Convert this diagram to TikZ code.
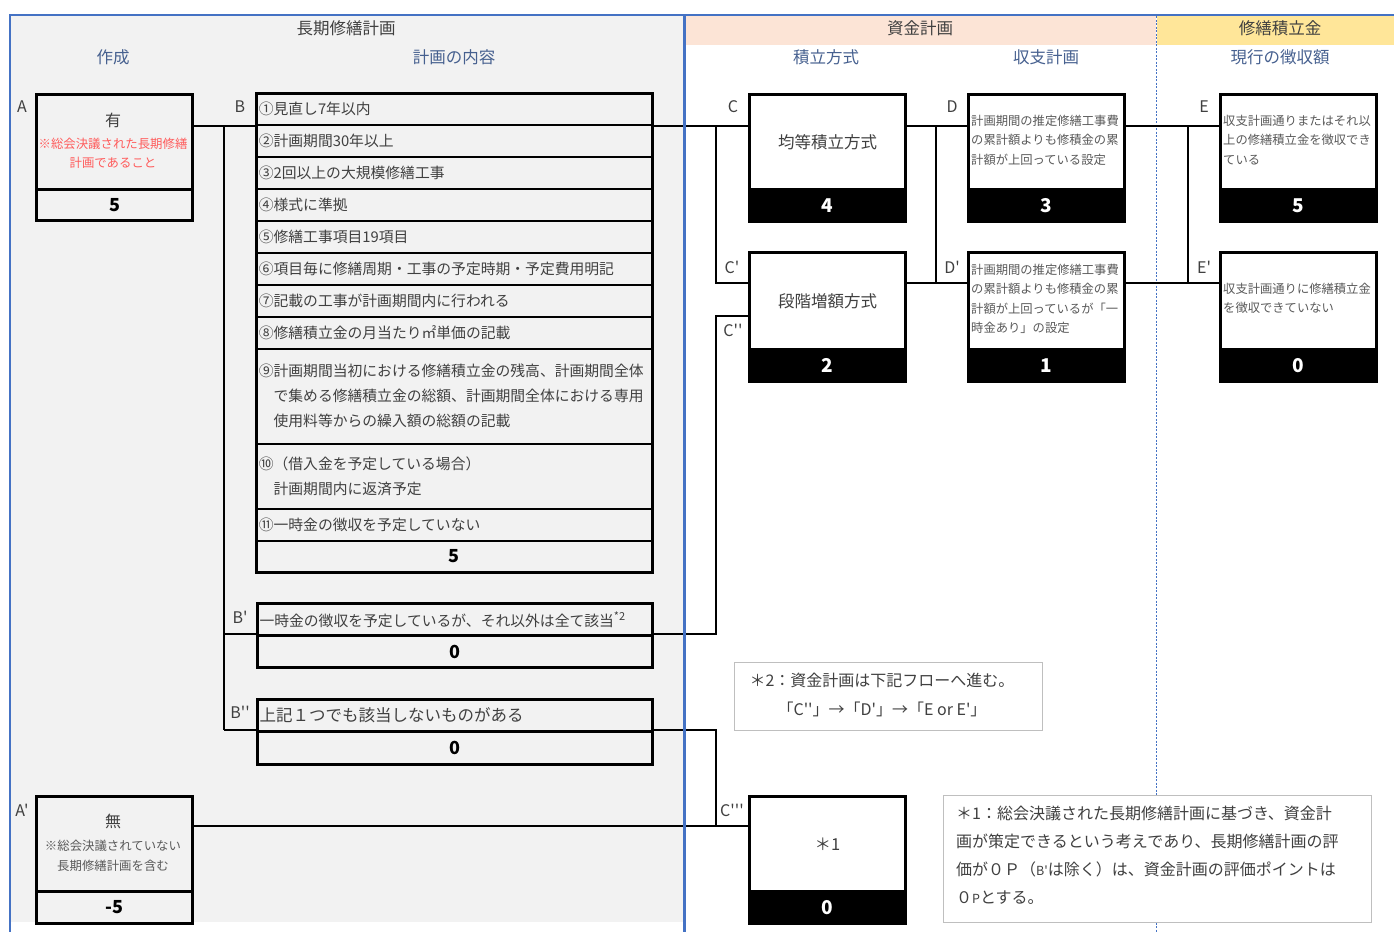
\documentclass[tikz,border=0pt]{standalone}
\usepackage{fontspec}
\setmainfont{Noto Sans CJK JP}[Ligatures=TeXOff]
\usetikzlibrary{calc}
\definecolor{panelgray}{HTML}{F2F2F2}
\definecolor{borderblue}{HTML}{4472C4}
\definecolor{hdrpink}{HTML}{FCE4D6}
\definecolor{hdryellow}{HTML}{FFE699}
\definecolor{subblue}{HTML}{46608F}
\definecolor{txtdark}{HTML}{404040}
\definecolor{txtgray}{HTML}{595959}
\definecolor{redtxt}{HTML}{FF5B5B}
\definecolor{notegray}{HTML}{BFBFBF}
\tikzset{
  hdr/.style={font=\fontsize{16.5}{20}\selectfont, text=txtdark, inner sep=0pt},
  subhdr/.style={font=\fontsize{16.5}{20}\selectfont, text=subblue, inner sep=0pt},
  lbl/.style={font=\fontsize{16}{20}\selectfont, text=txtdark, inner sep=0pt},
  graybox/.style={draw, line width=3pt, anchor=north west, minimum width=156pt, inner sep=0pt},
  whitebox/.style={draw, line width=3pt, fill=white, anchor=north west, minimum width=156pt, inner sep=0pt, font=\fontsize{16.5}{20}\selectfont, text=txtdark},
  blackband/.style={draw, line width=3pt, fill=black, text=white, anchor=north west, minimum width=156pt, minimum height=32pt, inner sep=0pt, font=\fontsize{19}{20}\selectfont\bfseries},
  scorefont/.style={font=\fontsize{18}{20}\selectfont\bfseries, text=black},
  row/.style={draw, line width=1.6pt, anchor=north west, minimum width=395pt, text width=391pt, inner xsep=2pt, inner ysep=0pt, align=left, font=\fontsize{14.8}{25}\selectfont, text=txtdark},
  conn/.style={line width=2pt, black},
  note/.style={draw=notegray, line width=1pt, fill=white, anchor=north west},
  small/.style={font=\fontsize{12.3}{19.5}\selectfont, text=txtgray, align=left, inner sep=0pt, anchor=west},
}
\begin{document}
\begin{tikzpicture}[x=1pt,y=-1pt]
\useasboundingbox (0,0) rectangle (1394,932);
% backgrounds
\fill[panelgray] (10,15) rectangle (684,922);
\fill[hdrpink] (686,16) rectangle (1156,45);
\fill[hdryellow] (1157,16) rectangle (1394,45);
\draw[borderblue, line width=0.9pt, dash pattern=on 2pt off 1.5pt] (1156.5,16) -- (1156.5,932);

% headers
\node[hdr] (h1) at (346,28) {長期修繕計画};
\node[hdr] (h2) at (920,28) {資金計画};
\node[hdr] (h3) at (1280,28) {修繕積立金};
\node[subhdr] (s1) at (113,57) {作成};
\node[subhdr] (s2) at (454,57) {計画の内容};
\node[subhdr] (s3) at (826,57) {積立方式};
\node[subhdr] (s4) at (1046,57) {収支計画};
\node[subhdr] (s5) at (1280,57) {現行の徴収額};

% A box
\node[graybox, minimum height=95pt] (Atop) at (35,93) {};
\node[graybox, minimum height=31pt, scorefont] (Ascore) at (35,188) {5};
\node[font=\fontsize{16}{20}\selectfont, text=txtdark, inner sep=0pt] (Ahas) at (113,120) {有};
\node[font=\fontsize{12.4}{19}\selectfont, text=redtxt, align=center, inner sep=0pt] (Anote) at (113,153.5) {※総会決議された長期修繕\\計画であること};

% A' box
\node[graybox, minimum height=95pt] (Aptop) at (35,795) {};
\node[graybox, minimum height=32pt, scorefont] (Apscore) at (35,890) {-5};
\node[font=\fontsize{16}{20}\selectfont, text=txtdark, inner sep=0pt] (Apnone) at (113,821) {無};
\node[font=\fontsize{12.4}{20}\selectfont, text=txtgray, align=center, inner sep=0pt] (Apnote) at (113,856) {※総会決議されていない\\長期修繕計画を含む};

% B list
\node[row, minimum height=31pt] (B1) at (256,93) {①見直し7年以内};
\node[row, minimum height=32pt] (B2) at (256,124) {②計画期間30年以上};
\node[row, minimum height=32pt] (B3) at (256,156) {③2回以上の大規模修繕工事};
\node[row, minimum height=32pt] (B4) at (256,188) {④様式に準拠};
\node[row, minimum height=32pt] (B5) at (256,220) {⑤修繕工事項目19項目};
\node[row, minimum height=32pt] (B6) at (256,252) {⑥項目毎に修繕周期・工事の予定時期・予定費用明記};
\node[row, minimum height=32pt] (B7) at (256,284) {⑦記載の工事が計画期間内に行われる};
\node[row, minimum height=32pt] (B8) at (256,316) {⑧修繕積立金の月当たり㎡単価の記載};
\node[row, minimum height=95pt] (B9) at (256,348) {⑨計画期間当初における修繕積立金の残高、計画期間全体\\\hspace*{1em}で集める修繕積立金の総額、計画期間全体における専用\\\hspace*{1em}使用料等からの繰入額の総額の記載};
\node[row, minimum height=65pt] (B10) at (256,443) {⑩（借入金を予定している場合）\\\hspace*{1em}計画期間内に返済予定};
\node[row, minimum height=32pt] (B11) at (256,508) {⑪一時金の徴収を予定していない};
\node[row, minimum height=31pt, align=center, scorefont] (Bs) at (256,540) {5};
\draw[line width=3pt] (B1.north west) rectangle (Bs.south east);

% B' and B''
\node[row, line width=3pt, minimum height=32pt] (Bp) at (256,602) {一時金の徴収を予定しているが、それ以外は全て該当\raisebox{6pt}{\fontsize{11}{11}\selectfont *2}};
\node[row, line width=3pt, minimum height=32pt, align=center, scorefont] (Bps) at (256,634) {0};
\node[row, line width=3pt, minimum height=32pt, font=\fontsize{16.5}{20}\selectfont] (Bpp) at (256,698) {上記１つでも該当しないものがある};
\node[row, line width=3pt, minimum height=33pt, align=center, scorefont] (Bpps) at (256,730) {0};

% C column
\node[whitebox, minimum height=95pt] (Ctop) at (748,93) {均等積立方式};
\node[blackband] (Cscore) at (748,188) {4};
\node[whitebox, minimum height=97pt] (Cptop) at (748,251) {段階増額方式};
\node[blackband] (Cpscore) at (748,348) {2};
\node[whitebox, minimum height=95pt] (Cppptop) at (748,795) {＊1};
\node[blackband] (Cpppscore) at (748,890) {0};

% D column
\node[whitebox, minimum height=95pt] (Dtop) at (967,93) {};
\node[blackband] (Dscore) at (967,188) {3};
\node[small] (Dtxt) at (971,140) {計画期間の推定修繕工事費\\の累計額よりも修積金の累\\計額が上回っている設定};
\node[whitebox, minimum height=97pt] (Dptop) at (967,251) {};
\node[blackband] (Dpscore) at (967,348) {1};
\node[small] (Dptxt) at (971,299) {計画期間の推定修繕工事費\\の累計額よりも修積金の累\\計額が上回っているが「一\\時金あり」の設定};

% E column
\node[whitebox, minimum height=95pt] (Etop) at (1219,93) {};
\node[blackband] (Escore) at (1219,188) {5};
\node[small] (Etxt) at (1223,140) {収支計画通りまたはそれ以\\上の修繕積立金を徴収でき\\ている};
\node[whitebox, minimum height=97pt] (Eptop) at (1219,251) {};
\node[blackband] (Epscore) at (1219,348) {0};
\node[small] (Eptxt) at (1223,298.5) {収支計画通りに修繕積立金\\を徴収できていない};

% letter labels
\node[lbl] (lA) at (22,107) {A};
\node[lbl] (lAp) at (22,810) {A'};
\node[lbl] (lB) at (240,107) {B};
\node[lbl] (lBp) at (240,617) {B'};
\node[lbl] (lBpp) at (240,712) {B''};
\node[lbl] (lC) at (733,107) {C};
\node[lbl] (lCp) at (732,267) {C'};
\node[lbl] (lCpp) at (733,330) {C''};
\node[lbl] (lCppp) at (732,810) {C'''};
\node[lbl] (lD) at (952,107) {D};
\node[lbl] (lDp) at (952,267) {D'};
\node[lbl] (lE) at (1204,107) {E};
\node[lbl] (lEp) at (1204,267) {E'};

% junction coordinates
\coordinate (jB) at (224,0);
\coordinate (jC) at (716,283);
\coordinate (jCpp) at (716,316);
\coordinate (jD) at (936,283);
\coordinate (jE) at (1188,283);
\coordinate (yAp) at (0,826);

% connectors
\draw[conn] (Atop.east |- B1.south) -- (B1.south west);
\draw[conn] (jB |- B1.south) -- (jB |- Bpps.north);
\draw[conn] (jB |- Bps.north) -- (Bps.north west);
\draw[conn] (jB |- Bpps.north) -- (Bpps.north west);
\draw[conn] (B1.south east) -- (Ctop.west |- B1.south);
\draw[conn] (jC |- B1.south) -- (jC) -- (Cptop.west |- jC);
\draw[conn] (Ctop.east |- B1.south) -- (Dtop.west |- B1.south);
\draw[conn] (jD |- B1.south) -- (jD);
\draw[conn] (Cptop.east |- jD) -- (Dptop.west |- jD);
\draw[conn] (Dtop.east |- B1.south) -- (Etop.west |- B1.south);
\draw[conn] (jE |- B1.south) -- (jE);
\draw[conn] (Dptop.east |- jE) -- (Eptop.west |- jE);
\draw[conn] (Bps.north east) -- (jC |- Bps.north) -- (jCpp) -- (Cptop.west |- jCpp);
\draw[conn] (Bpps.north east) -- (jC |- Bpps.north) -- (jC |- yAp);
\draw[conn] (Aptop.east |- yAp) -- (Cppptop.west |- yAp);

% notes
\node[note, minimum width=308pt, minimum height=68pt] (n2) at (734,662) {};
\node[font=\fontsize{16}{29}\selectfont, text=txtdark, align=center, inner sep=0pt] (n2txt) at (882,694.5) {＊2：資金計画は下記フローへ進む。\\「C''」→「D'」→「E or E'」};
\node[note, minimum width=428pt, minimum height=127pt] (n1) at (943,795) {};
\node[font=\fontsize{16}{28}\selectfont, text=txtdark, align=left, inner sep=0pt, anchor=west] (n1txt) at (956,855) {＊1：総会決議された長期修繕計画に基づき、資金計\\画が策定できるという考えであり、長期修繕計画の評\\価が０Ｐ（{\fontsize{12.5}{12}\selectfont B'}は除く）は、資金計画の評価ポイントは\\０{\fontsize{12.5}{12}\selectfont P}とする。};

% blue borders
\draw[borderblue, line width=2pt] (9,15) -- (1394,15);
\draw[borderblue, line width=2pt] (10,14) -- (10,932);
\draw[borderblue, line width=3pt] (684.5,14) -- (684.5,932);
\end{tikzpicture}
\end{document}
